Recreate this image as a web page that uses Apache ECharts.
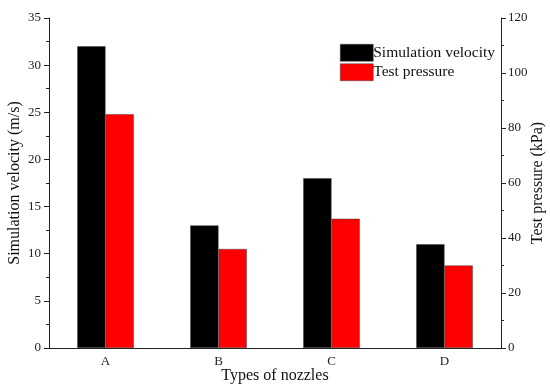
<!DOCTYPE html>
<html>
<head>
<meta charset="utf-8">
<script src="https://cdn.jsdelivr.net/npm/echarts@6/dist/echarts.min.js"></script>
<style>html,body{margin:0;padding:0;background:#fff}#c{width:550px;height:390px}</style>
</head>
<body>
<div id="c"></div>
<script>
const categories = ['A', 'B', 'C', 'D'];
const simulationVelocity = [32, 13, 18, 11];
const testPressure = [85, 36, 47, 30];
const leftTicks = {min: 0, max: 35, interval: 5};
const rightTicks = {min: 0, max: 120, interval: 20};

const font = '"Liberation Serif", "Times New Roman", serif';
const chart = echarts.init(document.getElementById('c'), null, {renderer: 'canvas'});
chart.setOption({
  animation: false,
  backgroundColor: '#fff',
  textStyle: {fontFamily: font, color: '#222'},
  legend: {
    left: 335, top: 39, orient: 'vertical', itemWidth: 33, itemHeight: 17, itemGap: 2,
    textStyle: {fontFamily: font, fontSize: 15.5, color: '#111', padding: [0, 0, 0, -5]},
    data: [
      {name: 'Simulation velocity', icon: 'rect', itemStyle: {borderColor: '#444', borderWidth: 0.5}},
      {name: 'Test pressure', icon: 'rect', itemStyle: {borderColor: '#444', borderWidth: 0.5}}
    ]
  },
  grid: {left: 49, right: 49, top: 18, bottom: 42, containLabel: false, outerBoundsMode: 'none'},
  xAxis: [{
    type: 'category', data: categories,
    name: 'Types of nozzles', nameLocation: 'middle', nameGap: 20, nameMoveOverlap: false,
    nameTextStyle: {fontFamily: font, fontSize: 16, color: '#111'},
    axisLine: {lineStyle: {color: '#222', width: 1}},
    axisTick: {alignWithLabel: true, length: 5, lineStyle: {color: '#222'}},
    axisLabel: {fontFamily: font, fontSize: 13, color: '#222', margin: 7}
  }, {
    type: 'category', data: categories, position: 'bottom',
    axisLine: {show: false},
    axisTick: {length: 3, inside: true, lineStyle: {color: '#222'}},
    axisLabel: {show: false}
  }],
  yAxis: [{
    type: 'value', min: leftTicks.min, max: leftTicks.max, interval: leftTicks.interval,
    name: 'Simulation velocity (m/s)', nameLocation: 'middle', nameGap: 26, nameRotate: 90,
    nameMoveOverlap: false,
    nameTextStyle: {fontFamily: font, fontSize: 16, color: '#111'},
    axisLine: {show: true, lineStyle: {color: '#222'}},
    axisTick: {show: true, length: 5, lineStyle: {color: '#222'}},
    minorTick: {show: true, splitNumber: 2, length: 3, lineStyle: {color: '#222'}},
    splitLine: {show: false},
    axisLabel: {fontFamily: font, fontSize: 13, color: '#222', margin: 8}
  }, {
    type: 'value', min: rightTicks.min, max: rightTicks.max, interval: rightTicks.interval,
    name: 'Test pressure (kPa)', nameLocation: 'middle', nameGap: 29, nameRotate: 90,
    nameMoveOverlap: false,
    nameTextStyle: {fontFamily: font, fontSize: 16, color: '#111'},
    axisLine: {show: true, lineStyle: {color: '#222'}},
    axisTick: {show: true, length: 5, lineStyle: {color: '#222'}},
    minorTick: {show: true, splitNumber: 2, length: 3, lineStyle: {color: '#222'}},
    splitLine: {show: false},
    axisLabel: {fontFamily: font, fontSize: 13, color: '#222', margin: 7}
  }],
  series: [{
    name: 'Simulation velocity', type: 'bar', yAxisIndex: 0, data: simulationVelocity,
    barGap: '0%', barCategoryGap: '50%',
    itemStyle: {color: '#000', borderColor: '#444', borderWidth: 0.5}
  }, {
    name: 'Test pressure', type: 'bar', yAxisIndex: 1, data: testPressure,
    itemStyle: {color: '#ff0000', borderColor: '#444', borderWidth: 0.5}
  }]
});
</script>
</body>
</html>
